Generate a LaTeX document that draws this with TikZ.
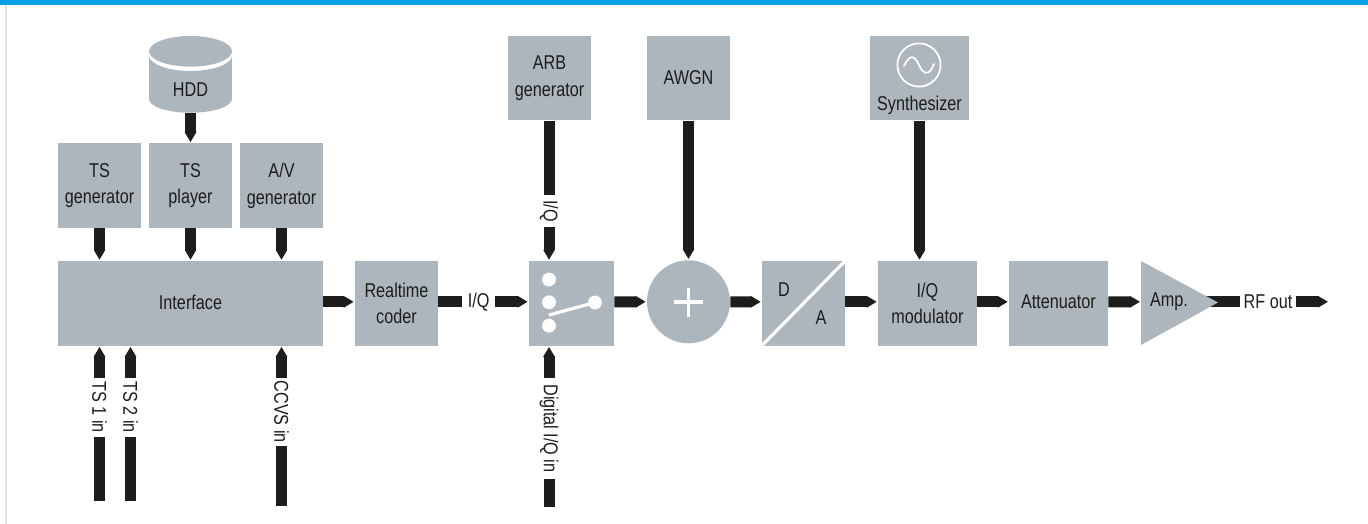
\documentclass[tikz,border=0pt]{standalone}
\usepackage{fontspec}
\setmainfont[FakeStretch=0.81]{Liberation Sans}
\usetikzlibrary{arrows.meta}
\definecolor{blockgrey}{HTML}{AEB6BD}
\definecolor{ink}{HTML}{1D1D1B}
\definecolor{topbar}{HTML}{00A0E3}
\definecolor{edgeline}{HTML}{DDE4E9}
\tikzset{
  x=0.75pt,y=-0.75pt,
  lbl/.style={font=\fontsize{15}{20}\selectfont,text=ink,align=center,inner sep=0pt},
  blockbox/.style={lbl,fill=blockgrey,minimum height=63.4pt},
  narrowbox/.style={blockbox,minimum width=62.25pt},
  widebox/.style={blockbox,minimum width=74.25pt},
  arr/.style={line width=8.25pt,draw=ink,-{Triangle[length=7.5pt,width=8.25pt]},shorten >=0.75pt},
  stub/.style={line width=8.25pt,draw=ink},
  wline/.style={draw=white,line width=2.4pt},
}
\def\dy{1.1pt}
\begin{document}
\begin{tikzpicture}
\useasboundingbox (0,0) rectangle (1368,524);
\fill[white] (0,0) rectangle (1368,524);
\fill[topbar] (0,0) rectangle (1368,5);
\fill[edgeline] (5,5) rectangle (7,524);

% HDD
\fill[blockgrey] (190.5,51.3) ellipse [x radius=31.1pt,y radius=11.5pt];
\fill[blockgrey] (149,55.5) -- (149,99) arc [start angle=180,end angle=360,x radius=31.1pt,y radius=10.3pt]
  -- (232,55.5) arc [start angle=360,end angle=180,x radius=31.1pt,y radius=11.6pt] -- cycle;
\node[lbl] (hdd) at (190.5,90) {HDD};
\coordinate (hddb) at (190.5,113);

% Boxes
\node[narrowbox] (tsgen) at (99.5,185.7) {\raisebox{0.6pt}{TS}\\\raisebox{0.6pt}{generator}};
\node[narrowbox] (tsply) at (190.5,185.7) {\raisebox{0.6pt}{TS}\\\raisebox{0.6pt}{player}};
\node[narrowbox] (avgen) at (281.5,185.7) {\raisebox{0.6pt}{A/V}\\\raisebox{0.6pt}{generator}};
\node[blockbox,minimum width=198.75pt] (iface) at (190.5,303.3) {\raisebox{2.2pt}{Interface}};
\node[narrowbox] (coder) at (396.5,303.3) {Realtime\\coder};
\node[narrowbox] (arb) at (549.5,78) {ARB\\generator};
\node[narrowbox] (awgn) at (688.5,78) {\raisebox{0.8pt}{AWGN}};
\node[widebox] (synth) at (919.5,78) {};
\node[lbl] (synthlab) at (919.5,105.5) {Synthesizer};
\node[blockbox,minimum width=63.75pt] (sw) at (571.5,303.3) {};
\node[circle,fill=blockgrey,minimum size=62.25pt,inner sep=0pt] (sum) at (688.5,301.8) {};
\node[narrowbox] (da) at (803.5,303.3) {};
\node[widebox] (mod) at (927.5,303.3) {I/Q\\modulator};
\node[widebox] (att) at (1058.5,303.3) {\raisebox{2.2pt}{Attenuator}};

% Synthesizer symbol
\draw[white,line width=1.3pt] (919,65) circle [radius=16.2pt];
\draw[white,line width=1.3pt,line cap=round] (904,66) .. controls (910,53) and (915,56) .. (919,65)
  .. controls (923,74) and (929,77) .. (934,64);

% Switch symbol
\foreach \yy in {279.5,302.3,325.7}
  \fill[white] (549,\yy) circle [radius=5.2pt];
\fill[white] (595,302.5) circle [radius=5.2pt];
\draw[wline] (549,315) -- (595,302.5);

% Plus
\draw[wline] (674,302) -- (703,302);
\draw[wline] (688.5,288) -- (688.5,317);

% D/A
\begin{scope}
\clip (da.south west) rectangle (da.north east);
\draw[wline] (846,260) -- (762,345.5);
\end{scope}
\node[lbl] (dlab) at (784,290) {D};
\node[lbl] (alab) at (821,318) {A};

% Labels on connectors
\node[lbl,rotate=-90,minimum width=24pt] (iqarb) at (549,211) {I/Q};
\node[lbl,rotate=-90,minimum width=75.75pt] (digi) at (549,428.5) {Digital I/Q in};
\node[lbl,rotate=-90,minimum width=44pt] (ts1) at (99.5,407.3) {TS 1 in};
\node[lbl,rotate=-90,minimum width=44pt] (ts2) at (130.5,407.3) {TS 2 in};
\node[lbl,rotate=-90,minimum width=50.5pt] (ccvs) at (281.5,411.7) {CCVS in};
\node[lbl,minimum width=24pt] (iqh) at (478.7,301.8) {I/Q};
\node[lbl,minimum width=42pt] (rf) at (1268,301.8) {RF out};
\coordinate (ts1e) at (99.5,501);
\coordinate (ts2e) at (130.5,501);
\coordinate (ccvse) at (281.5,506);
\coordinate (digie) at (549,506.5);
\coordinate (rfe) at (1329,301.8);
\coordinate (ampt) at (1205,301.8);

% Vertical connectors
\draw[arr] (hddb) -- (tsply.north);
\draw[arr] (tsgen.south) -- (iface.north -| tsgen.south);
\draw[arr] (tsply.south) -- (iface.north -| tsply.south);
\draw[arr] (avgen.south) -- (iface.north -| avgen.south);
\draw[stub] (arb.south -| iqarb.west) -- (iqarb.west);
\draw[arr] (iqarb.east) -- (sw.north -| iqarb.east);
\draw[arr] (awgn.south) -- (sum.north);
\draw[arr] (synth.south) -- (mod.north -| synth.south);
\draw[stub] (digie) -- (digi.east);
\draw[arr] (digi.west) -- (sw.south -| digi.west);
\draw[stub] (ts1e) -- (ts1.east);
\draw[arr] (ts1.west) -- (iface.south -| ts1.west);
\draw[stub] (ts2e) -- (ts2.east);
\draw[arr] (ts2.west) -- (iface.south -| ts2.west);
\draw[stub] (ccvse) -- (ccvs.east);
\draw[arr] (ccvs.west) -- (iface.south -| ccvs.west);

% Horizontal connectors
\draw[arr] ([yshift=\dy]iface.east) -- ([yshift=\dy]coder.west);
\draw[stub] (coder.east |- iqh.west) -- (iqh.west);
\draw[arr] (iqh.east) -- (sw.west |- iqh.east);
\draw[arr] ([yshift=\dy]sw.east) -- (sum.west);
\draw[arr] (sum.east) -- ([yshift=\dy]da.west);
\draw[arr] ([yshift=\dy]da.east) -- ([yshift=\dy]mod.west);
\draw[arr] ([yshift=\dy]mod.east) -- ([yshift=\dy]att.west);
\draw[arr] ([yshift=\dy]att.east) -- (1141,301.8);
\draw[stub] (ampt) -- (rf.west);
\draw[arr] (rf.east) -- (rfe);

% Amplifier
\fill[blockgrey] (1141,261) -- (1218,302.5) -- (1141,345) -- cycle;
\node[lbl] (amp) at (1169,301.5) {Amp.};
\end{tikzpicture}
\end{document}
